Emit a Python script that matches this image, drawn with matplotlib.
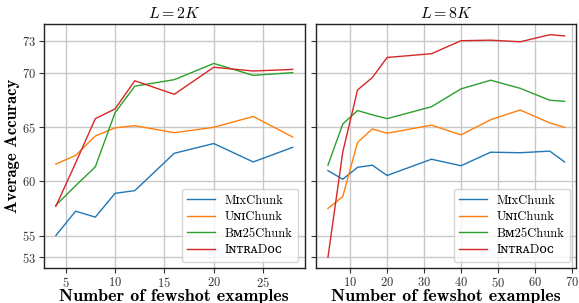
import matplotlib
matplotlib.use("Agg")
import matplotlib.pyplot as plt

plt.rcParams['font.family'] = ['cmr10', 'DejaVu Serif']
plt.rcParams['mathtext.fontset'] = 'cm'
plt.rcParams['axes.formatter.use_mathtext'] = True

# data
x_2k = [4, 6, 8, 10, 12, 16, 20, 24, 28]
mix_2k = [55.0, 57.25, 56.7, 58.9, 59.15, 62.6, 63.5, 61.8, 63.15]
uni_2k = [61.6, 62.4, 64.2, 64.95, 65.15, 64.5, 65.0, 66.0, 64.1]
bm25_2k = [57.8, 59.6, 61.35, 66.35, 68.8, 69.4, 70.9, 69.8, 70.05]
intra_2k = [57.7, 61.7, 65.8, 66.7, 69.3, 68.05, 70.55, 70.2, 70.35]

x_8k = [4, 8, 12, 16, 20, 32, 40, 48, 56, 64, 68]
mix_8k = [61.0, 60.2, 61.3, 61.5, 60.55, 62.05, 61.45, 62.7, 62.65, 62.8, 61.8]
uni_8k = [57.5, 58.6, 63.6, 64.85, 64.45, 65.2, 64.3, 65.7, 66.6, 65.4, 65.0]
bm25_8k = [61.5, 65.3, 66.55, 66.15, 65.8, 66.9, 68.55, 69.35, 68.6, 67.5, 67.4]
intra_8k = [53.0, 62.7, 68.45, 69.6, 71.45, 71.8, 73.0, 73.05, 72.9, 73.55, 73.45]

names = ['M\u026axChunk', 'U\u0274\u026aChunk', 'B\u1d0d25Chunk',
         'I\u0274\u1d1b\u0280\u1d00D\u1d0f\u1d04']
colors = ['#1f77b4', '#ff7f0e', '#2ca02c', '#d62728']
yticks = [53, 55, 60, 65, 70, 73]

fig = plt.figure(figsize=(5.79, 3.03), dpi=100)
ax1 = fig.add_axes([0.076, 0.1155, 0.450, 0.8055])
ax2 = fig.add_axes([0.546, 0.1155, 0.4495, 0.8055], sharey=ax1)

panels = [
    (ax1, x_2k, [mix_2k, uni_2k, bm25_2k, intra_2k], r'$L = 2K$'),
    (ax2, x_8k, [mix_8k, uni_8k, bm25_8k, intra_8k], r'$L = 8K$'),
]

for ax, xs, series, title in panels:
    for ys, name, c in zip(series, names, colors):
        ax.plot(xs, ys, color=c, lw=1.0, label=name)
    ax.set_title(title, fontsize=11.5, pad=4)
    ax.grid(True, color='#c8c8c8', lw=1.0)
    ax.set_axisbelow(True)
    ax.tick_params(labelsize=9, length=3.5, width=0.8, pad=2.5, colors='#333333', labelcolor='#333333')
    for s in ax.spines.values():
        s.set_color('#222222')
        s.set_linewidth(1.0)
    ax.set_xlabel('Number of fewshot examples', fontfamily='cmb10', fontsize=13, labelpad=-1)
    leg = ax.legend(loc='lower right', fontsize=9, frameon=True, fancybox=True,
                    framealpha=0.8, edgecolor='#cccccc', handlelength=2.2,
                    borderpad=0.45, labelspacing=0.35, borderaxespad=0.5)

ax1.set_ylim(52.0, 74.55)
ax1.set_yticks(yticks)
ax1.set_xlim(2.8, 29.2)
ax1.set_xticks([5, 10, 15, 20, 25])
ax2.set_xlim(0.8, 71.2)
ax2.set_xticks([10, 20, 30, 40, 50, 60, 70])
plt.setp(ax2.get_yticklabels(), visible=False)
ax1.set_ylabel('Average Accuracy', fontfamily='cmb10', fontsize=12, labelpad=1.5)

fig.savefig('out.png', dpi=100)
